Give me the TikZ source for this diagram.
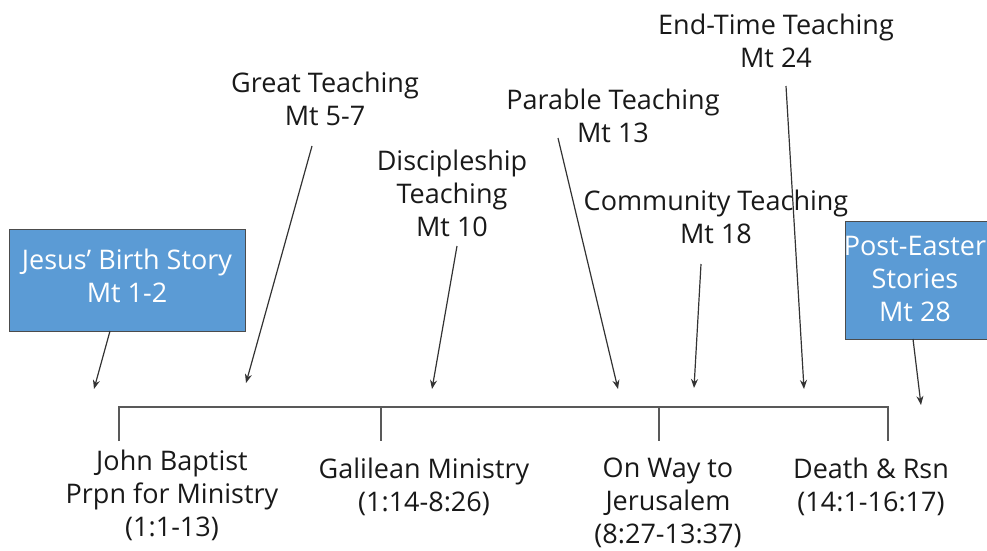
\documentclass[tikz,border=0pt]{standalone}
\usepackage{fontspec}
\setmainfont{Open Sans}
\usetikzlibrary{arrows.meta}
\definecolor{boxblue}{HTML}{5B9BD5}
\definecolor{lin}{HTML}{595959}
\tikzset{
  lbl/.style={align=center, inner sep=0pt, font=\fontsize{27}{33}\selectfont, text=black!90},
  boxlbl/.style={lbl, text=white},
  bluebox/.style={fill=boxblue, draw=black!70, line width=1pt},
  arr/.style={draw=black!80, line width=1.2pt, -{Stealth[length=9pt,width=7pt]}},
  tl/.style={draw=lin, line width=1.4pt}
}
\begin{document}
\begin{tikzpicture}[x=1pt,y=-1pt]
\useasboundingbox (0,0) rectangle (987,551);
% blue boxes
\path[bluebox] (9,229) rectangle (245,331);
\path[bluebox] (845,221) rectangle (992,339);
\node[boxlbl] (birth) at (127,276) {Jesus’ Birth Story\\Mt 1-2};
\node[boxlbl] (easter) at (915,279) {Post-Easter\\Stories\\Mt 28};
% teaching labels
\node[lbl] (great) at (325,98.5) {Great Teaching\\Mt 5-7};
\node[lbl] (disc) at (452,193) {Discipleship\\Teaching\\Mt 10};
\node[lbl] (para) at (613,116) {Parable Teaching\\Mt 13};
\node[lbl] (comm) at (716,216.5) {Community Teaching\\Mt 18};
\node[lbl] (end) at (776,40.5) {End-Time Teaching\\Mt 24};
% arrow endpoints
\coordinate (s1) at (110,331); \coordinate (t1) at (94,389);
\coordinate (s2) at (312,146); \coordinate (t2) at (246,383);
\coordinate (s3) at (457,246); \coordinate (t3) at (432,389);
\coordinate (s4) at (558,138); \coordinate (t4) at (618,389);
\coordinate (s5) at (701,264); \coordinate (t5) at (694,388);
\coordinate (s6) at (786,86);  \coordinate (t6) at (804,389);
\coordinate (s7) at (913,339); \coordinate (t7) at (921,405);
\draw[arr] (s1) -- (t1);
\draw[arr] (s2) -- (t2);
\draw[arr] (s3) -- (t3);
\draw[arr] (s4) -- (t4);
\draw[arr] (s5) -- (t5);
\draw[arr] (s6) -- (t6);
\draw[arr] (s7) -- (t7);
% timeline
\coordinate (a) at (119,407); \coordinate (b) at (381,407);
\coordinate (c) at (659,407); \coordinate (d) at (888,407);
\coordinate (a2) at (119,441); \coordinate (b2) at (381,441);
\coordinate (c2) at (659,441); \coordinate (d2) at (888,441);
\draw[tl] (a2) -- (a) -- (d) -- (d2);
\draw[tl] (b) -- (b2);
\draw[tl] (c) -- (c2);
% period labels
\node[lbl] (john) at (172,495) {John Baptist\\Prpn for Ministry\\(1:1-13)};
\node[lbl] (gal) at (424,486.5) {Galilean Ministry\\(1:14-8:26)};
\node[lbl] (way) at (668,503) {On Way to\\Jerusalem\\(8:27-13:37)};
\node[lbl] (death) at (871,486.5) {Death \& Rsn\\(14:1-16:17)};
\end{tikzpicture}
\end{document}
